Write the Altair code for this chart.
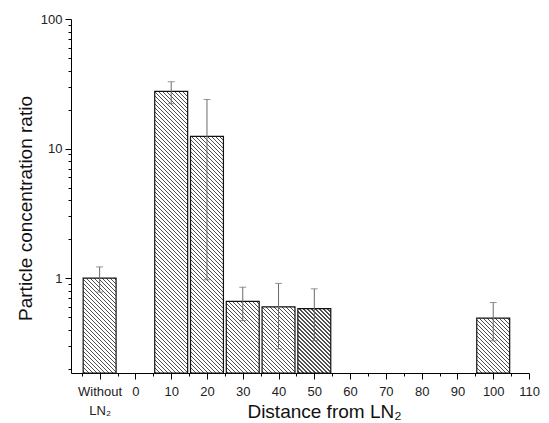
import math
import altair as alt

# ---- data ----
positions = [-10, 10, 20, 30, 40, 50, 100]
values = [1.0, 27.6, 12.4, 0.66, 0.60, 0.58, 0.49]
err_low = [0.78, 22.2, 0.97, 0.47, 0.284, 0.328, 0.328]
err_high = [1.22, 32.8, 23.9, 0.85, 0.91, 0.826, 0.648]

x_major = [-10, 0, 10, 20, 30, 40, 50, 60, 70, 80, 90, 100, 110]
x_minor = [-15, -5, 5, 15, 25, 35, 45, 55, 65, 75, 85, 95, 105]
y_major = [1, 10, 100]
y_minor = [0.2, 0.3, 0.4, 0.5, 0.6, 0.7, 0.8, 0.9,
           2, 3, 4, 5, 6, 7, 8, 9,
           20, 30, 40, 50, 60, 70, 80, 90]

# ---- layout / style ----
W, H = 458, 354
X_DOM = [-18, 110]
Y_DOM = [0.185, 100]
HALF = 4.6
FONT = "Liberation Sans"
DARK = "#505050"


def hatch(value):
    """Diagonal hatch as a striped linear gradient (style only)."""
    w = 2 * HALF * W / (X_DOM[1] - X_DOM[0])
    h = H * (math.log10(value) - math.log10(Y_DOM[0])) / (math.log10(Y_DOM[1]) - math.log10(Y_DOM[0]))
    total = w + h
    k = total / (w * w + h * h)
    period, lw = 4.0, 1.15
    stops = []
    i = 0
    while True:
        s = (i * period + 1.0) / total
        e = s + lw / total
        if e >= 1:
            break
        stops += [{"offset": s, "color": "white"}, {"offset": s, "color": DARK},
                  {"offset": e, "color": DARK}, {"offset": e, "color": "white"}]
        i += 1
    return {"gradient": "linear", "x1": 0, "y1": 1, "x2": k * w, "y2": 1 - k * h,
            "stops": stops}


records = [
    {"pos": p, "value": v, "lo": lo, "hi": hi, "grad": hatch(v)}
    for p, v, lo, hi in zip(positions, values, err_low, err_high)
]

xscale = alt.Scale(domain=X_DOM, nice=False, zero=False)
yscale = alt.Scale(type="log", domain=Y_DOM, nice=False)

major_x = alt.Axis(
    orient="bottom",
    values=x_major,
    labelExpr="datum.value == -10 ? ['Without', 'LN₂'] : datum.label",
    tickSize=6, tickColor="black", domainColor="black", grid=False,
    labelFont=FONT, labelFontSize=13, labelColor="#222", labelPadding=6,
    labelLineHeight=19, labelFlush=False, labelOverlap=False,
    title="Distance from LN₂", titleFont=FONT, titleFontSize=19,
    titleFontWeight="normal", titleColor="#111",
    titleX=253, titleY=44, titleAlign="center", titleBaseline="alphabetic",
)
major_y = alt.Axis(
    orient="left",
    values=y_major, format=".0f",
    tickSize=6, tickColor="black", domainColor="black", grid=False,
    labelFont=FONT, labelFontSize=13, labelColor="#222", labelPadding=3,
    labelOverlap=False,
    title="Particle concentration ratio", titleFont=FONT, titleFontSize=19,
    titleFontWeight="normal", titleColor="#111",
    titleX=-46, titleY=189, titleAngle=270, titleAlign="center",
    titleBaseline="middle",
)
minor_x = alt.Axis(orient="bottom", values=x_minor, labels=False, domain=False,
                   tickSize=3, tickColor="black", grid=False, title="")
minor_y = alt.Axis(orient="left", values=y_minor, labels=False, domain=False,
                   tickSize=3, tickColor="black", grid=False, title="")

base = alt.Chart(alt.Data(values=records)).transform_calculate(
    x0=f"datum.pos - {HALF}", x1=f"datum.pos + {HALF}", base=str(Y_DOM[0])
)

bars = base.mark_bar(stroke="#111", strokeWidth=1.2).encode(
    x=alt.X("x0:Q", scale=xscale, axis=major_x),
    x2="x1:Q",
    y=alt.Y("value:Q", scale=yscale, axis=major_y),
    y2="base:Q",
    fill=alt.Fill("grad:N", scale=None),
)

rules = base.mark_rule(color="#6a6a6a", strokeWidth=1).encode(
    x=alt.X("pos:Q", scale=xscale, axis=minor_x),
    y=alt.Y("lo:Q", scale=yscale, axis=minor_y),
    y2="hi:Q",
)

cap_hi = base.mark_tick(orient="horizontal", size=7, thickness=1, color="#6a6a6a").encode(
    x=alt.X("pos:Q", scale=xscale, axis=None),
    y=alt.Y("hi:Q", scale=yscale, axis=None),
)
cap_lo = base.mark_tick(orient="horizontal", size=7, thickness=1, color="#6a6a6a").encode(
    x=alt.X("pos:Q", scale=xscale, axis=None),
    y=alt.Y("lo:Q", scale=yscale, axis=None),
)

chart = (
    alt.layer(bars, rules, cap_hi, cap_lo)
    .resolve_scale(x="shared", y="shared")
    .resolve_axis(x="independent", y="independent")
    .properties(
        width=W, height=H, autosize="none",
        padding={"left": 63, "top": 11, "right": 12, "bottom": 49},
        background="white",
    )
    .configure_view(strokeWidth=0)
)

chart.save("out.html", embed_options={"renderer": "svg", "actions": False})
